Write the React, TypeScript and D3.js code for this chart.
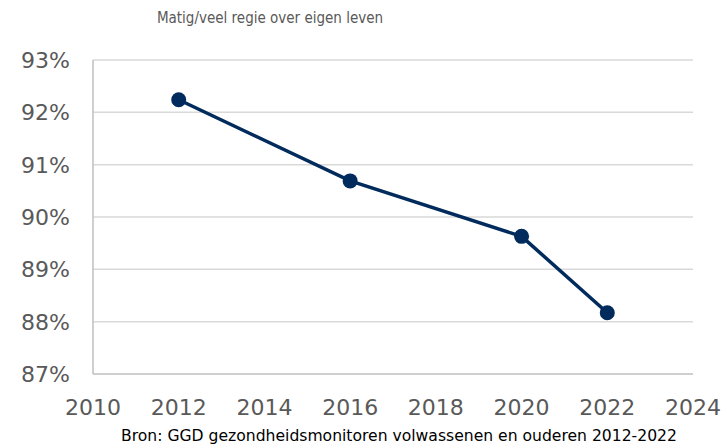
import React, { useEffect, useRef } from "react";
import * as d3 from "d3";

const years = [2012, 2016, 2020, 2022];
const values = [92.24, 90.69, 89.63, 88.17];
const yTicks = [87, 88, 89, 90, 91, 92, 93];
const xTicks = [2010, 2012, 2014, 2016, 2018, 2020, 2022, 2024];
const title = "Matig/veel regie over eigen leven";
const source = "Bron: GGD gezondheidsmonitoren volwassenen en ouderen 2012-2022";

const App: React.FC = () => {
    const svgRef = useRef<SVGSVGElement>(null);
    const width = 726;
    const height = 447;

    useEffect(() => {
        if (!svgRef.current) return;
        const svg = d3.select(svgRef.current);
        svg.selectAll("*").remove();

        const margin = { top: 60, right: 33, bottom: 73, left: 93 };
        const x = d3.scaleLinear().domain([2010, 2024]).range([margin.left, width - margin.right]);
        const y = d3.scaleLinear().domain([87, 93]).range([height - margin.bottom, margin.top]);

        // title
        svg.append("text")
            .attr("x", 270)
            .attr("y", 23)
            .attr("text-anchor", "middle")
            .attr("font-family", "'DejaVu Sans Condensed', 'DejaVu Sans', sans-serif")
            .attr("font-size", 15)
            .attr("fill", "#595959")
            .text(title);

        // gridlines
        svg.append("g")
            .selectAll("line")
            .data(yTicks.filter((t) => t !== 87))
            .join("line")
            .attr("x1", x(2010))
            .attr("x2", x(2024))
            .attr("y1", (d) => y(d))
            .attr("y2", (d) => y(d))
            .attr("stroke", "#d9d9d9")
            .attr("stroke-width", 1.5);

        // axes lines
        svg.append("line")
            .attr("x1", x(2010)).attr("x2", x(2024))
            .attr("y1", y(87)).attr("y2", y(87))
            .attr("stroke", "#bfbfbf").attr("stroke-width", 1.5);
        svg.append("line")
            .attr("x1", x(2010)).attr("x2", x(2010))
            .attr("y1", y(87)).attr("y2", y(93))
            .attr("stroke", "#bfbfbf").attr("stroke-width", 1.5);

        // y labels
        svg.append("g")
            .selectAll("text")
            .data(yTicks)
            .join("text")
            .attr("x", 70)
            .attr("y", (d) => y(d))
            .attr("dy", "0.36em")
            .attr("text-anchor", "end")
            .attr("font-family", "'DejaVu Sans', Verdana, sans-serif")
            .attr("font-size", 22)
            .attr("fill", "#595959")
            .text((d) => `${d}%`);

        // x labels
        svg.append("g")
            .selectAll("text")
            .data(xTicks)
            .join("text")
            .attr("x", (d) => x(d))
            .attr("y", 415)
            .attr("text-anchor", "middle")
            .attr("font-family", "'DejaVu Sans', Verdana, sans-serif")
            .attr("font-size", 22)
            .attr("fill", "#595959")
            .text((d) => `${d}`);

        // line
        const data = years.map((yr, i) => ({ x: yr, y: values[i] }));
        const line = d3.line<{ x: number; y: number }>()
            .x((d) => x(d.x))
            .y((d) => y(d.y));
        svg.append("path")
            .datum(data)
            .attr("fill", "none")
            .attr("stroke", "#002b5c")
            .attr("stroke-width", 3.5)
            .attr("d", line);
        svg.append("g")
            .selectAll("circle")
            .data(data)
            .join("circle")
            .attr("cx", (d) => x(d.x))
            .attr("cy", (d) => y(d.y))
            .attr("r", 7.5)
            .attr("fill", "#002b5c");

        // source
        svg.append("text")
            .attr("x", 399)
            .attr("y", 441)
            .attr("text-anchor", "middle")
            .attr("font-family", "'DejaVu Sans', Verdana, sans-serif")
            .attr("font-size", 15.6)
            .attr("fill", "#000")
            .text(source);
    }, []);

    return (
        <div style={{ position: "absolute", left: 0, top: 0 }}>
            <svg ref={svgRef} width={width} height={height} style={{ display: "block", background: "#fff" }}></svg>
        </div>
    );
};

export default App;
